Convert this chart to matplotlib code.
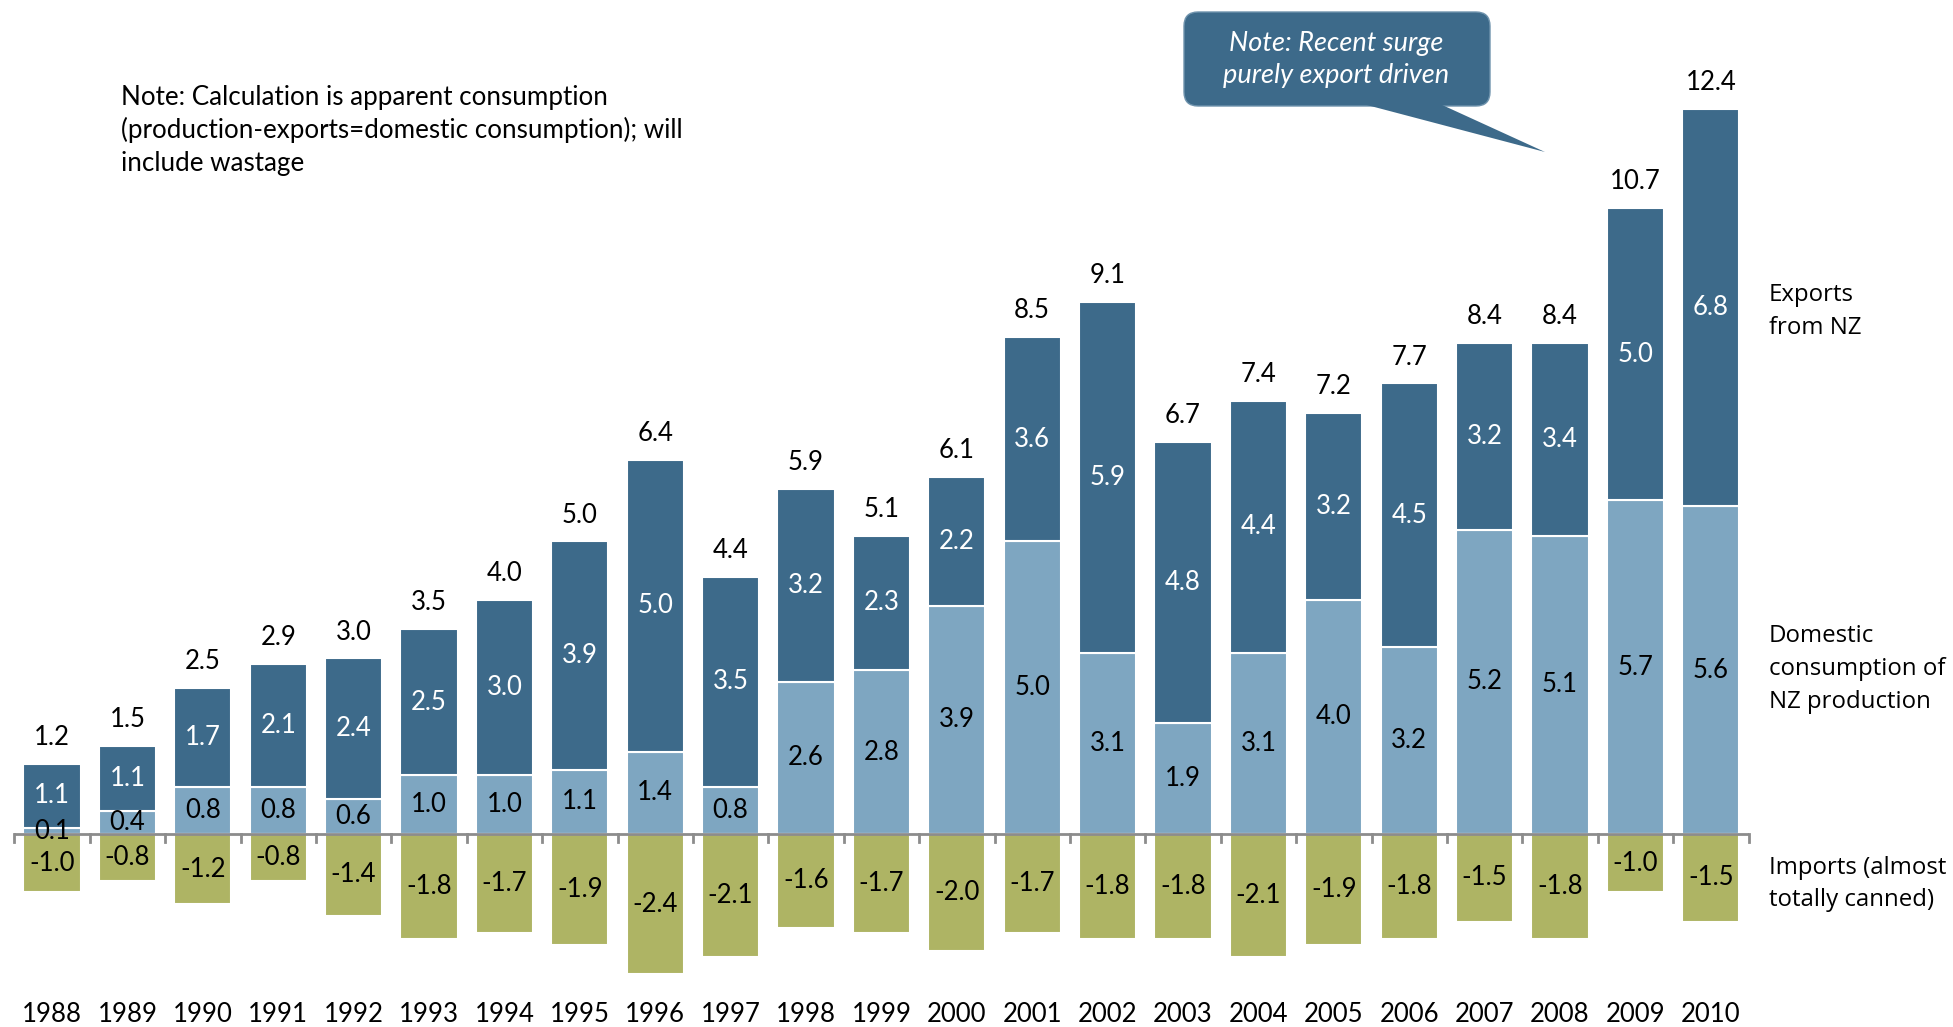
import matplotlib.pyplot as plt
from matplotlib.patches import FancyBboxPatch, Polygon
from matplotlib.transforms import Affine2D

# --- data ---
years = ['1988', '1989', '1990', '1991', '1992', '1993', '1994', '1995', '1996', '1997', '1998', '1999',
         '2000', '2001', '2002', '2003', '2004', '2005', '2006', '2007', '2008', '2009', '2010']
domestic = [0.1, 0.4, 0.8, 0.8, 0.6, 1.0, 1.0, 1.1, 1.4, 0.8, 2.6, 2.8,
            3.9, 5.0, 3.1, 1.9, 3.1, 4.0, 3.2, 5.2, 5.1, 5.7, 5.6]
exports = [1.1, 1.1, 1.7, 2.1, 2.4, 2.5, 3.0, 3.9, 5.0, 3.5, 3.2, 2.3,
           2.2, 3.6, 5.9, 4.8, 4.4, 3.2, 4.5, 3.2, 3.4, 5.0, 6.8]
imports = [-1.0, -0.8, -1.2, -0.8, -1.4, -1.8, -1.7, -1.9, -2.4, -2.1, -1.6, -1.7,
           -2.0, -1.7, -1.8, -1.8, -2.1, -1.9, -1.8, -1.5, -1.8, -1.0, -1.5]
totals = [1.2, 1.5, 2.5, 2.9, 3.0, 3.5, 4.0, 5.0, 6.4, 4.4, 5.9, 5.1,
          6.1, 8.5, 9.1, 6.7, 7.4, 7.2, 7.7, 8.4, 8.4, 10.7, 12.4]

C_EXP = '#3D6A8A'
C_DOM = '#7EA6C1'
C_IMP = '#AEB464'
FONT = 'Lato'

W, H = 1953, 1027
fig = plt.figure(figsize=(W / 100, H / 100), dpi=100)
ax = fig.add_axes([14.3 / W, 0.0, (1748.5 - 14.3) / W, 0.9627])
ax.set_xlim(-0.5, len(years) - 0.5)
ax.set_ylim(-3.3, 13.6)
ax.axis('off')

x = list(range(len(years)))
bw = 0.76
# exports segment reaches the (unrounded) total, labels keep rounded values
exp_h = [t - d for t, d in zip(totals, domestic)]
ax.bar(x, domestic, bw, color=C_DOM, edgecolor='white', linewidth=1.5, zorder=2)
ax.bar(x, exp_h, bw, bottom=domestic, color=C_EXP, edgecolor='white', linewidth=1.5, zorder=2)
ax.bar(x, imports, bw, color=C_IMP, edgecolor='white', linewidth=1.5, zorder=2)

# zero line with tick marks between categories
ax.axhline(0, color='#8C8C8C', lw=2, zorder=3)
for i in range(len(years) + 1):
    ax.plot([i - 0.5, i - 0.5], [0, -0.14], color='#8C8C8C', lw=2, zorder=3, clip_on=False)

fs = 18.5
for i in x:
    d, e, m = domestic[i], exports[i], imports[i]
    ax.text(i, d / 2, f'{d:.1f}', ha='center', va='center', fontsize=fs, family=FONT, color='black', zorder=4)
    ax.text(i, d + exp_h[i] / 2, f'{e:.1f}', ha='center', va='center', fontsize=fs, family=FONT, color='white', zorder=4)
    ax.text(i, m / 2, f'{m:.1f}', ha='center', va='center', fontsize=fs, family=FONT, color='black', zorder=4)
    ax.annotate(f'{totals[i]:.1f}', (i, totals[i]), xytext=(0, 10), textcoords='offset points',
                ha='center', va='bottom', fontsize=fs, family=FONT, color='black')
    ax.text(i, -3.09, years[i], ha='center', va='center', fontsize=fs, family=FONT, color='black')

# pixel transform (top-left origin) for annotations
px = Affine2D().scale(1 / 100, -1 / 100).translate(0, H / 100) + fig.dpi_scale_trans

for y, t in [(97, 'Note: Calculation is apparent consumption'),
             (130, '(production-exports=domestic consumption); will'),
             (163, 'include wastage')]:
    fig.text(121, y, t, transform=px, fontsize=18.7, family=FONT, va='center')

# right-hand series labels
rfont = 'Open Sans'
for y, t in [(295, 'Exports'), (328, 'from NZ'),
             (636, 'Domestic'), (669, 'consumption of'), (702, 'NZ production'),
             (868, 'Imports (almost'), (900, 'totally canned)')]:
    fig.text(1769, y, t, transform=px, fontsize=17.3, family=rfont, va='center')

# callout bubble
box = FancyBboxPatch((1184, 12), 306, 94, boxstyle='round,pad=0,rounding_size=14',
                     transform=px, facecolor=C_EXP, edgecolor='#6F93AD', lw=1)
fig.patches.append(box)
tail = Polygon([(1363, 104), (1440, 104), (1545, 152)], closed=True, transform=px,
               facecolor=C_EXP, edgecolor='none')
fig.patches.append(tail)
fig.text(1336, 43, 'Note: Recent surge', transform=px, fontsize=19.5, family=FONT, style='italic',
         color='white', ha='center', va='center')
fig.text(1336, 76, 'purely export driven', transform=px, fontsize=19.5, family=FONT, style='italic',
         color='white', ha='center', va='center')

fig.savefig('out.png', dpi=100)
